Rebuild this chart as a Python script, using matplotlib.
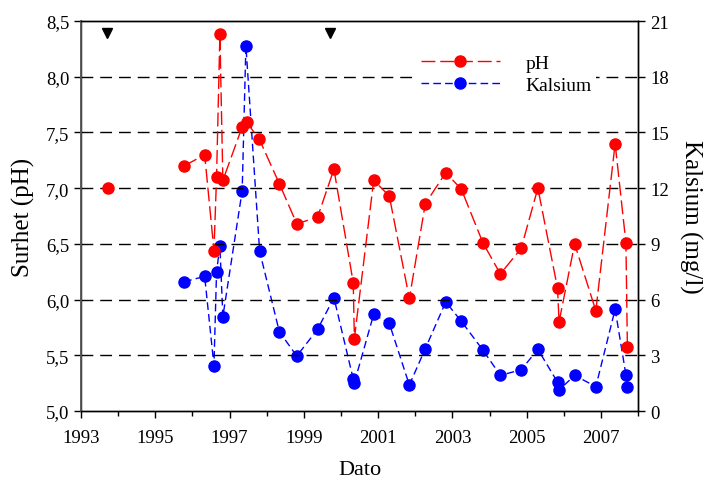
import matplotlib
matplotlib.use("Agg")
import matplotlib.pyplot as plt
from matplotlib.ticker import FixedLocator, MultipleLocator, FuncFormatter

plt.rcParams['font.family'] = ['Liberation Serif', 'DejaVu Serif']

# first pH sample stands alone (no connecting line to the next)
ph_single_date = [1993.74]
ph_single_value = [7.00]

ph_dates = [1995.78, 1996.33, 1996.58, 1996.65, 1996.74, 1996.82, 1997.34,
            1997.46, 1997.80, 1998.34, 1998.81, 1999.37, 1999.81, 2000.33, 2000.36,
            2000.88, 2001.30, 2001.84, 2002.27, 2002.82, 2003.24, 2003.82, 2004.29,
            2004.85, 2005.30, 2005.83, 2005.87, 2006.29, 2006.86, 2007.38, 2007.67,
            2007.71]
ph_values = [7.20, 7.30, 6.44, 7.10, 8.38, 7.07, 7.55,
             7.59, 7.44, 7.04, 6.68, 6.74, 7.17, 6.15, 5.65,
             7.07, 6.93, 6.01, 6.86, 7.14, 6.99, 6.51, 6.23,
             6.46, 7.00, 6.10, 5.80, 6.50, 5.90, 7.40, 6.51,
             5.57]

ca_dates = [1995.78, 1996.33, 1996.58, 1996.65, 1996.74, 1996.82, 1997.34, 1997.44,
            1997.81, 1998.34, 1998.81, 1999.37, 1999.81, 2000.33, 2000.36, 2000.88,
            2001.30, 2001.84, 2002.27, 2002.82, 2003.24, 2003.82, 2004.29, 2004.85,
            2005.30, 2005.83, 2005.87, 2006.29, 2006.86, 2007.38, 2007.67, 2007.71]
ca_values = [6.96, 7.25, 2.44, 7.49, 8.90, 5.08, 11.86, 19.67,
             8.60, 4.27, 2.96, 4.40, 6.10, 1.72, 1.52, 5.21,
             4.72, 1.40, 3.36, 5.87, 4.83, 3.28, 1.92, 2.22,
             3.32, 1.55, 1.13, 1.92, 1.31, 5.48, 1.95, 1.28]

event_dates = [1993.7, 1999.7]
event_level = 8.39

x_major = [1993, 1995, 1997, 1999, 2001, 2003, 2005, 2007]

fig = plt.figure(figsize=(7.04, 4.85), dpi=100)
ax = fig.add_axes([0.115, 0.1505, 0.7915, 0.8041])
ax2 = ax.twinx()

ax.set_xlim(1993, 2008)
ax.set_ylim(5.0, 8.5)
ax2.set_ylim(0, 21)

# gridlines
for g in [5.5, 6.0, 6.5, 7.0, 7.5, 8.0]:
    ax.axhline(g, color='black', lw=1.0, dashes=(8.5, 5), zorder=0)

ms = 8
l_ph, = ax.plot(ph_dates, ph_values, color='red', lw=1.0, dashes=(10, 3.5),
                marker='o', markersize=ms, markeredgecolor='red', zorder=3,
                label='pH')
ax.plot(ph_single_date, ph_single_value, linestyle='none', color='red',
        marker='o', markersize=ms, zorder=3)
ax.plot(event_dates, [event_level] * len(event_dates), linestyle='none',
        marker='v', color='black', markersize=7, zorder=4)
l_ca, = ax2.plot(ca_dates, ca_values, color='blue', lw=1.0, dashes=(5.5, 3),
                 marker='o', markersize=ms, markeredgecolor='blue', zorder=3,
                 label='Kalsium')

ax.set_zorder(ax2.get_zorder() + 1)
ax.patch.set_visible(False)

ax.xaxis.set_major_locator(FixedLocator(x_major))
ax.xaxis.set_minor_locator(MultipleLocator(1))
ax.xaxis.set_major_formatter(FuncFormatter(lambda v, p: f"{int(round(v))}"))
ax.yaxis.set_major_locator(MultipleLocator(0.5))
ax.yaxis.set_major_formatter(FuncFormatter(lambda v, p: f"{v:.1f}".replace('.', ',')))
ax2.yaxis.set_major_locator(MultipleLocator(3))
ax2.yaxis.set_major_formatter(FuncFormatter(lambda v, p: f"{int(round(v))}"))

ax.tick_params(axis='both', which='major', labelsize=13.5, direction='out', length=5, width=1)
ax.tick_params(axis='x', which='minor', direction='out', length=3.5, width=1)
ax2.tick_params(axis='y', which='major', labelsize=13.5, direction='out', length=5, width=1)
ax.tick_params(axis='x', pad=8)

for a in (ax, ax2):
    for s in a.spines.values():
        s.set_linewidth(1.0)
ax.spines['left'].set_color('#555555')
ax.spines['left'].set_linewidth(1.3)

ax.set_xlabel('Dato', fontsize=16, labelpad=10)
ax.set_ylabel('Surhet (pH)', fontsize=18, labelpad=8)
ax2.set_ylabel('Kalsium (mg/l)', fontsize=18, rotation=270, labelpad=24)

leg = ax.legend(handles=[l_ph, l_ca], loc='upper left', bbox_to_anchor=(0.585, 0.95),
                frameon=True, fontsize=14, handlelength=4.1, handletextpad=1.3,
                borderpad=0.2, labelspacing=0.25)
leg.get_frame().set_edgecolor('none')
leg.get_frame().set_facecolor('white')
leg.get_frame().set_alpha(1.0)
for line in leg.get_lines():
    line.set_marker('o')
    line.set_markevery([1])

fig.savefig('out.png', dpi=100)
